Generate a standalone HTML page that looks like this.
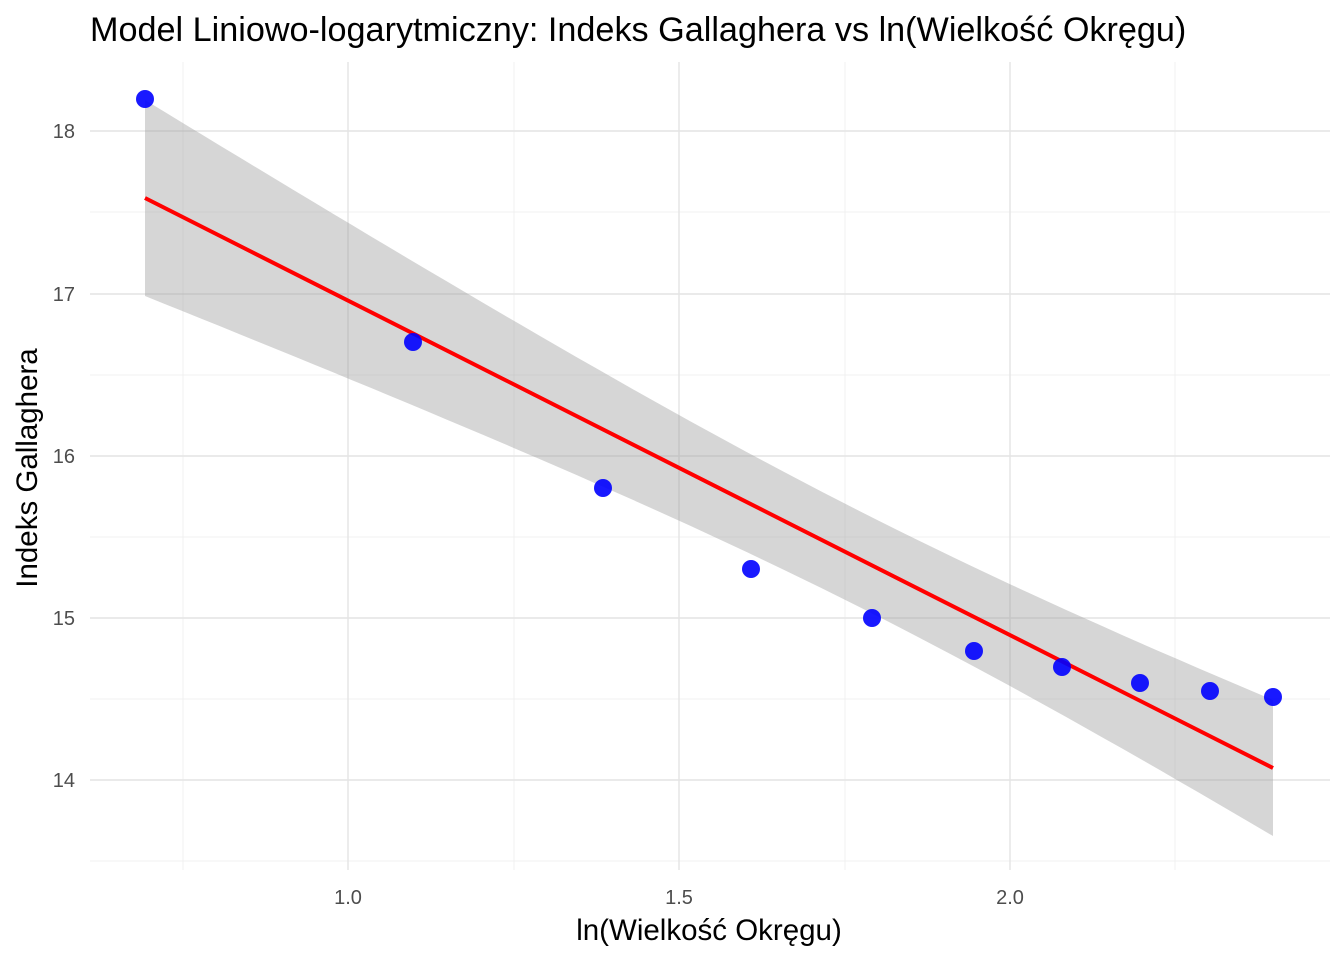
<!DOCTYPE html>
<html><head><meta charset="utf-8"><style>
body{margin:0;background:#fff}
svg{display:block}
text{font-family:"Liberation Sans","DejaVu Sans",sans-serif}
</style></head><body>
<svg id="s" width="1344" height="960" xmlns="http://www.w3.org/2000/svg">
<rect width="1344" height="960" fill="#fff"/>
<g stroke="#f0f0f0" stroke-width="1">
<line x1="183" y1="62" x2="183" y2="870"/><line x1="514" y1="62" x2="514" y2="870"/><line x1="845" y1="62" x2="845" y2="870"/><line x1="1175" y1="62" x2="1175" y2="870"/>
<line x1="90" y1="212" x2="1330" y2="212"/><line x1="90" y1="375" x2="1330" y2="375"/><line x1="90" y1="537" x2="1330" y2="537"/><line x1="90" y1="699" x2="1330" y2="699"/><line x1="90" y1="861" x2="1330" y2="861"/>
</g>
<g stroke="#e4e4e4" stroke-width="1.4">
<line x1="348" y1="62" x2="348" y2="870"/><line x1="679" y1="62" x2="679" y2="870"/><line x1="1010" y1="62" x2="1010" y2="870"/>
<line x1="90" y1="131" x2="1330" y2="131"/><line x1="90" y1="294" x2="1330" y2="294"/><line x1="90" y1="456" x2="1330" y2="456"/><line x1="90" y1="618" x2="1330" y2="618"/><line x1="90" y1="780" x2="1330" y2="780"/>
</g>
<path id="band" fill="#999" fill-opacity="0.4"/>
<line x1="145" y1="198" x2="1273" y2="768" stroke="#ff0000" stroke-width="4"/>
<g id="pts" fill="#0000ff" fill-opacity="0.9"></g>
<g fill="#4d4d4d" font-size="20">
<text x="75" y="138" text-anchor="end">18</text><text x="75" y="301" text-anchor="end">17</text><text x="75" y="463" text-anchor="end">16</text><text x="75" y="625" text-anchor="end">15</text><text x="75" y="787" text-anchor="end">14</text>
<text x="348" y="904" text-anchor="middle">1.0</text><text x="679" y="904" text-anchor="middle">1.5</text><text x="1010" y="904" text-anchor="middle">2.0</text>
</g>
<text x="709" y="940" font-size="29.5" text-anchor="middle" fill="#000">ln(Wielkość Okręgu)</text>
<text transform="translate(37,468) rotate(-90)" font-size="29.5" text-anchor="middle" fill="#000">Indeks Gallaghera</text>
<text x="90" y="41" font-size="34.2" fill="#000">Model Liniowo-logarytmiczny: Indeks Gallaghera vs ln(Wielkość Okręgu)</text>
</svg>
<script>
var up=[],lo=[];
for(var i=0;i<=60;i++){var x=145+(1273-145)*i/60;var y=198+(768-198)*(x-145)/1128;var d=(x-866)/662;var h=Math.sqrt(2304+6155*d*d);up.push(x.toFixed(1)+","+(y-h).toFixed(1));lo.unshift(x.toFixed(1)+","+(y+h).toFixed(1));}
document.getElementById("band").setAttribute("d","M"+up.join("L")+"L"+lo.join("L")+"Z");
var P=[[145,99],[413,342],[603,488],[751,569],[872,618],[974,651],[1062,667],[1140,683],[1210,691],[1273,697]];
var g=document.getElementById("pts");
P.forEach(function(p){var c=document.createElementNS("http://www.w3.org/2000/svg","circle");c.setAttribute("cx",p[0]);c.setAttribute("cy",p[1]);c.setAttribute("r",9);g.appendChild(c);});
</script>
</body></html>
